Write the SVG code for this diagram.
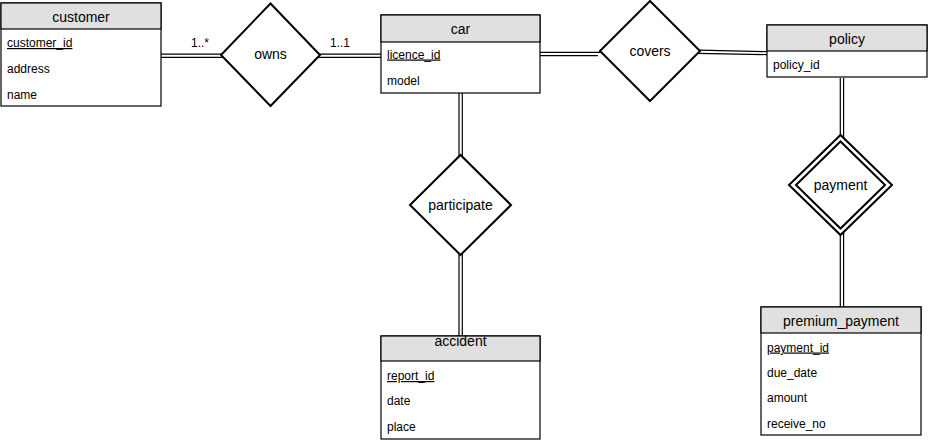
<svg xmlns="http://www.w3.org/2000/svg" width="928" height="442" viewBox="0 0 928 442">
<style>
.box{fill:#ffffff;stroke:#000;stroke-width:1.2}
.hdr{fill:#e0e0e0;stroke:#000;stroke-width:1.2}
.dia{fill:#ffffff;stroke:#000;stroke-width:2}
.h{font-family:"Liberation Sans",Arial,sans-serif;font-size:14px;fill:#000;text-anchor:middle}
.a{font-family:"Liberation Sans",Arial,sans-serif;font-size:12px;fill:#000}
.u{text-decoration:underline}
.lbl{font-family:"Liberation Sans",Arial,sans-serif;font-size:12px;fill:#000;text-anchor:middle}
.c{stroke:#000;stroke-width:1.2;fill:none}
</style>
<rect width="928" height="442" fill="#ffffff"/>
<g id="connectors">
<line class="c" x1="161" y1="54.2" x2="222" y2="54.2"/>
<line class="c" x1="161" y1="57.4" x2="224" y2="57.4"/>
<line class="c" x1="318" y1="54.2" x2="381" y2="54.2"/>
<line class="c" x1="316" y1="57.4" x2="381" y2="57.4"/>
<line class="c" x1="540" y1="52.4" x2="601" y2="52.4"/>
<line class="c" x1="540" y1="55.7" x2="598" y2="55.7"/>
<line class="c" x1="699" y1="50.2" x2="767" y2="51.6"/>
<line class="c" x1="697" y1="53.4" x2="767" y2="54.6"/>
<line class="c" x1="459" y1="93" x2="459" y2="157"/>
<line class="c" x1="462.3" y1="93" x2="462.3" y2="159"/>
<line class="c" x1="459" y1="252" x2="459" y2="336"/>
<line class="c" x1="462.3" y1="254" x2="462.3" y2="336"/>
<line class="c" x1="840.3" y1="78" x2="840.3" y2="137"/>
<line class="c" x1="843.6" y1="78" x2="843.6" y2="139"/>
<line class="c" x1="840.3" y1="233" x2="840.3" y2="307"/>
<line class="c" x1="843.6" y1="231" x2="843.6" y2="307"/>
</g>
<g id="customer">
<rect class="box" x="1" y="3" width="160" height="103"/>
<rect class="hdr" x="1" y="3" width="160" height="26"/>
<text class="h" x="81" y="21.5">customer</text>
<text class="a u" x="7" y="47">customer_id</text>
<text class="a" x="7" y="72.5">address</text>
<text class="a" x="7" y="98.5">name</text>
</g>
<g id="owns">
<polygon class="dia" points="221,55 270.5,3.5 320,55 270.5,106"/>
<text class="h" x="270.5" y="59">owns</text>
</g>
<g id="card-labels">
<text class="lbl" x="200" y="47">1..*</text>
<text class="lbl" x="340" y="47">1..1</text>
</g>
<g id="car">
<rect class="box" x="381" y="15" width="159" height="78"/>
<rect class="hdr" x="381" y="15" width="159" height="27"/>
<text class="h" x="460.5" y="34">car</text>
<text class="a u" x="387" y="58.5">licence_id</text>
<text class="a" x="387" y="84.5">model</text>
</g>
<g id="covers">
<polygon class="dia" points="600,51 650,1 700,51 650,101"/>
<text class="h" x="650" y="55.5">covers</text>
</g>
<g id="policy">
<rect class="box" x="767" y="25" width="160" height="52"/>
<rect class="hdr" x="767" y="25" width="160" height="26"/>
<text class="h" x="847" y="44">policy</text>
<text class="a" x="773" y="69">policy_id</text>
</g>
<g id="participate">
<polygon class="dia" points="410,205 460.5,155 511,205 460.5,255"/>
<text class="h" x="460.5" y="210">participate</text>
</g>
<g id="accident">
<rect class="box" x="381" y="336" width="159" height="103"/>
<rect class="hdr" x="381" y="336" width="159" height="25"/>
<text class="h" x="460.5" y="346">accident</text>
<text class="a u" x="387" y="380">report_id</text>
<text class="a" x="387" y="405">date</text>
<text class="a" x="387" y="431">place</text>
</g>
<g id="payment">
<polygon class="dia" points="789,185 840.5,135 892,185 840.5,235"/>
<polygon class="dia" points="796,185 840.5,141.5 885,185 840.5,228.5"/>
<text class="h" x="840.5" y="190">payment</text>
</g>
<g id="premium_payment">
<rect class="box" x="761" y="307" width="160" height="128"/>
<rect class="hdr" x="761" y="307" width="160" height="26"/>
<text class="h" x="841" y="325.5">premium_payment</text>
<text class="a u" x="767" y="351.5">payment_id</text>
<text class="a" x="767" y="376.5">due_date</text>
<text class="a" x="767" y="402">amount</text>
<text class="a" x="767" y="427.5">receive_no</text>
</g>
</svg>
